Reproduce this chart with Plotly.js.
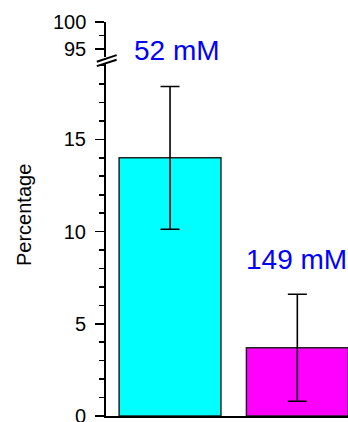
<!DOCTYPE html>
<html>
<head>
<meta charset="utf-8">
<script src="https://cdn.plot.ly/plotly-3.0.1.min.js"></script>
<style>html,body{margin:0;padding:0;background:#fff;}#chart{width:348px;height:422px;}</style>
</head>
<body>
<div id="chart"></div>
<script>
// Data
var categories = ["52 mM", "149 mM"];
var percentages = [14.0, 3.7];
var errors = [3.87, 2.9];
var barColors = ["#00ffff", "#ff00ff"];
var lowerTickVals = [0, 5, 10, 15];
var upperTickVals = [95, 100];
var yTitle = "Percentage";

var font = "Liberation Sans, Arial, sans-serif";

var trace = {
  type: "bar",
  x: [0, 1],
  y: percentages,
  width: 0.8,
  marker: {color: barColors, line: {color: "#222222", width: 1.5}},
  error_y: {type: "data", array: errors, visible: true, color: "#000000", thickness: 1.6, width: 9.5},
  xaxis: "x", yaxis: "y",
  hoverinfo: "skip"
};

var annotations = [
  {text: yTitle, xref: "paper", yref: "paper", x: -0.339, y: 0.51, xanchor: "center", yanchor: "middle",
   textangle: -90, showarrow: false, font: {family: font, size: 20, color: "#000000"}},
  {text: categories[0], xref: "x", yref: "y2", x: -0.3, y: 94.75, xanchor: "left", yanchor: "middle",
   showarrow: false, font: {family: font, size: 28, color: "#0000ff"}},
  {text: categories[1], xref: "x", yref: "y", x: 0.581, y: 8.5, xanchor: "left", yanchor: "middle",
   showarrow: false, font: {family: font, size: 28, color: "#0000ff"}}
];
// upper-axis tick labels
upperTickVals.forEach(function (v) {
  annotations.push({text: String(v), xref: "paper", yref: "y2", x: -0.0785, y: v, xanchor: "right", yanchor: "middle",
    showarrow: false, font: {family: font, size: 20, color: "#000000"}, borderpad: 0});
});

var layout = {
  width: 348, height: 422,
  margin: {l: 106, r: 0, t: 22, b: 6},
  paper_bgcolor: "#ffffff", plot_bgcolor: "rgba(0,0,0,0)",
  showlegend: false,
  font: {family: font, size: 20, color: "#000000"},
  xaxis: {
    range: [-0.503, 1.398], showline: true, linecolor: "#000000", linewidth: 2,
    showticklabels: false, ticks: "", showgrid: false, zeroline: false, fixedrange: true,
    anchor: "y"
  },
  yaxis: {
    domain: [0, 0.893], range: [0, 19.08],
    tickvals: lowerTickVals, ticktext: lowerTickVals.map(String),
    ticks: "outside", ticklen: 9, tickwidth: 1.6, tickcolor: "#000000",
    minor: {dtick: 1, tick0: 0, ticks: "outside", ticklen: 5, tickwidth: 1.6, tickcolor: "#000000", showgrid: false},
    showline: true, linecolor: "#000000", linewidth: 2,
    showgrid: false, zeroline: false, ticklabelstandoff: 5,
    ticklabeloverflow: "allow",
    tickfont: {family: font, size: 20},
    anchor: "x"
  },
  yaxis2: {
    domain: [0.911, 1], range: [93.47, 100],
    tickvals: upperTickVals, showticklabels: false,
    ticks: "outside", ticklen: 9, tickwidth: 1.6, tickcolor: "#000000",
    minor: {tickvals: [97.5], ticks: "outside", ticklen: 5, tickwidth: 1.6, tickcolor: "#000000", showgrid: false},
    showline: true, linecolor: "#000000", linewidth: 2,
    showgrid: false, zeroline: false,
    anchor: "x"
  },
  shapes: [
    {type: "line", xref: "paper", yref: "paper", x0: -0.038, y0: 0.899, x1: 0.044, y1: 0.916, line: {color: "#000000", width: 2}},
    {type: "line", xref: "paper", yref: "paper", x0: -0.038, y0: 0.888, x1: 0.044, y1: 0.904, line: {color: "#000000", width: 2}}
  ],
  annotations: annotations
};

Plotly.newPlot("chart", [trace], layout, {staticPlot: true, displayModeBar: false});
</script>
</body>
</html>
